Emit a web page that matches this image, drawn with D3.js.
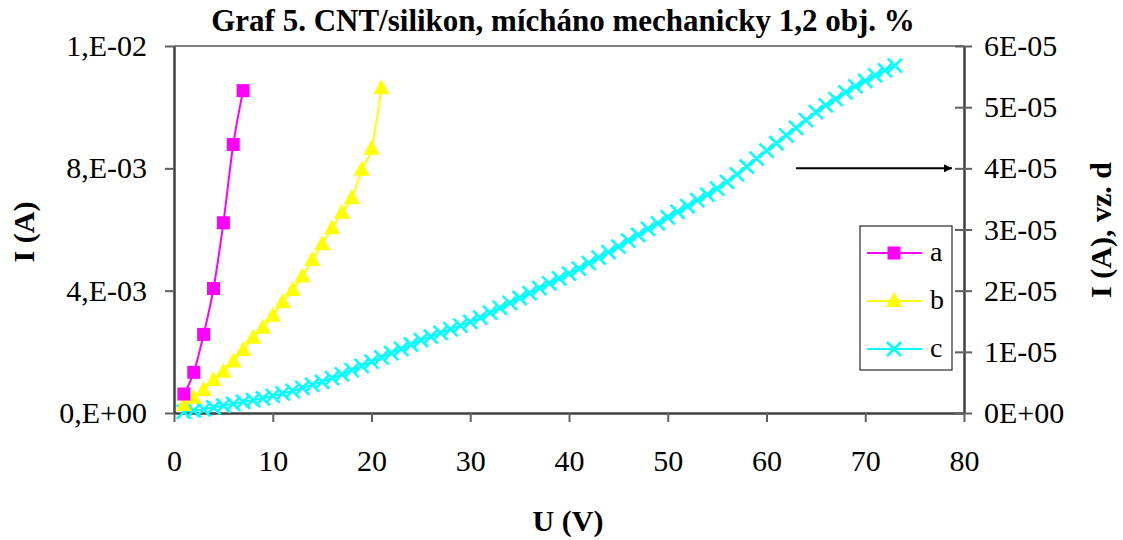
<!DOCTYPE html>
<html>
<head>
<meta charset="utf-8">
<title>Graf 5</title>
<style>
  body { margin: 0; background: #fff; }
  text { font-family: "Liberation Serif", "Times New Roman", serif; fill: #000; }
</style>
</head>
<body>
<svg id="chart" width="1123" height="540"></svg>
<script src="https://d3js.org/d3.v7.min.js"></script>
<script>
// series a: U (V) and I (A)
var aU = [1, 2, 3, 4, 5, 6, 7];
var aI = [0.00062, 0.00133, 0.00257, 0.00407, 0.00622, 0.00878, 0.01054];

// series b
var bU = [1, 2, 3, 4, 5, 6, 7, 8, 9, 10, 11, 12, 13, 14, 15, 16, 17, 18, 19, 20, 21];
var bI = [0.00026, 0.00050, 0.00075, 0.00108, 0.00135, 0.00168, 0.00206, 0.00246, 0.00279, 0.00318,
          0.00362, 0.00402, 0.00446, 0.00500, 0.00552, 0.00604, 0.00655, 0.00702, 0.00795, 0.00864, 0.01062];

// series c (right axis), current in units of 1E-05 A
var cU = [1, 2, 3, 4, 5, 6, 7, 8, 9, 10, 11, 12, 13, 14, 15, 16, 17, 18, 19, 20,
          21, 22, 23, 24, 25, 26, 27, 28, 29, 30, 31, 32, 33, 34, 35, 36, 37, 38, 39, 40,
          41, 42, 43, 44, 45, 46, 47, 48, 49, 50, 51, 52, 53, 54, 55, 56, 57, 58, 59, 60,
          61, 62, 63, 64, 65, 66, 67, 68, 69, 70, 71, 72, 73];
var cI = [0.02, 0.04, 0.06, 0.09, 0.12, 0.15, 0.18, 0.21, 0.24, 0.28,
          0.32, 0.36, 0.41, 0.46, 0.51, 0.57, 0.63, 0.70, 0.77, 0.84,
          0.91, 0.98, 1.05, 1.12, 1.19, 1.25, 1.31, 1.37, 1.43, 1.49,
          1.56, 1.64, 1.72, 1.80, 1.88, 1.96, 2.04, 2.12, 2.20, 2.28,
          2.36, 2.45, 2.54, 2.63, 2.72, 2.82, 2.91, 3.01, 3.10, 3.20,
          3.29, 3.38, 3.48, 3.57, 3.67, 3.78, 3.90, 4.03, 4.16, 4.29,
          4.41, 4.54, 4.66, 4.79, 4.92, 5.03, 5.13, 5.24, 5.34, 5.43,
          5.52, 5.60, 5.68];

// ticks and labels
var xTicks = [0, 10, 20, 30, 40, 50, 60, 70, 80];
var yLeftTicks = [0, 0.004, 0.008, 0.012];
var yLeftLabels = ["0,E+00", "4,E-03", "8,E-03", "1,E-02"];
var yRightTicks = [0, 1, 2, 3, 4, 5, 6];
var yRightLabels = ["0E+00", "1E-05", "2E-05", "3E-05", "4E-05", "5E-05", "6E-05"];
var seriesNames = ["a", "b", "c"];
var seriesColors = ["#ff00ff", "#ffff00", "#00ffff"];

var svg = d3.select("#chart");
var pLeft = 174, pRight = 964, pTop = 46, pBottom = 413;

var x = d3.scaleLinear().domain([0, 80]).range([pLeft, pRight]);
var yL = d3.scaleLinear().domain([0, 0.012]).range([pBottom, pTop]);
var yR = d3.scaleLinear().domain([0, 6]).range([pBottom, pTop]);

// plot area
svg.append("rect").attr("x", pLeft).attr("y", pTop).attr("width", pRight - pLeft).attr("height", pBottom - pTop)
    .attr("fill", "#fff");
svg.append("line").attr("x1", pLeft).attr("x2", pRight).attr("y1", pTop).attr("y2", pTop)
    .attr("stroke", "#808080").attr("stroke-width", 2);

// axes
var xAxis = svg.append("g").attr("transform", "translate(0," + pBottom + ")")
    .call(d3.axisBottom(x).tickValues(xTicks).tickSize(9).tickSizeOuter(0).tickPadding(28));
var yAxisL = svg.append("g").attr("transform", "translate(" + pLeft + ",0)")
    .call(d3.axisLeft(yL).tickValues(yLeftTicks).tickSize(9).tickSizeOuter(0).tickPadding(18)
        .tickFormat(function(d, i){ return yLeftLabels[i]; }));
var yAxisR = svg.append("g").attr("transform", "translate(" + pRight + ",0)")
    .call(d3.axisRight(yR).tickValues(yRightTicks).tickSize(8).tickSizeOuter(0).tickPadding(12)
        .tickFormat(function(d, i){ return yRightLabels[i]; }));
yAxisR.selectAll(".tick line").attr("x1", -9);

[xAxis, yAxisL, yAxisR].forEach(function(g){
    g.select(".domain").attr("stroke", "#404040").attr("stroke-width", 2.5);
    g.selectAll(".tick line").attr("stroke", "#606060").attr("stroke-width", 2);
    g.selectAll(".tick text").attr("font-family", "Liberation Serif").attr("font-size", 30).attr("fill", "#000");
});
xAxis.selectAll(".tick text").attr("dy", "0.71em");

// titles
svg.append("text").attr("x", 563).attr("y", 31).attr("text-anchor", "middle")
    .attr("font-size", 31).attr("font-weight", "bold")
    .text("Graf 5. CNT/silikon, mícháno mechanicky 1,2 obj. %");
svg.append("text").attr("x", 568).attr("y", 531).attr("text-anchor", "middle")
    .attr("font-size", 30).attr("font-weight", "bold").text("U (V)");
svg.append("text").attr("transform", "translate(34,232) rotate(-90)").attr("text-anchor", "middle")
    .attr("font-size", 30).attr("font-weight", "bold").text("I (A)");
svg.append("text").attr("transform", "translate(1111,230) rotate(-90)").attr("text-anchor", "middle")
    .attr("font-size", 30).attr("font-weight", "bold").text("I (A), vz. d");

// lines
var curve = d3.curveCardinal.tension(0);
function drawLine(us, is, ys, color){
    var pts = us.map(function(u, i){ return [x(u), ys(is[i])]; });
    svg.append("path").attr("d", d3.line().curve(curve)(pts))
        .attr("fill", "none").attr("stroke", color).attr("stroke-width", 2);
    return pts;
}
var aPts = drawLine(aU, aI, yL, seriesColors[0]);
var bPts = drawLine(bU, bI, yL, seriesColors[1]);
var cPts = drawLine(cU, cI, yR, seriesColors[2]);

// markers
function square(g, px, py, color){
    g.append("rect").attr("x", px - 6.5).attr("y", py - 6.5).attr("width", 13).attr("height", 13).attr("fill", color);
}
function triangle(g, px, py, color){
    g.append("path").attr("d", "M" + px + "," + (py - 9) + "L" + (px + 8) + "," + (py + 6) + "L" + (px - 8) + "," + (py + 6) + "Z")
        .attr("fill", color);
}
function cross(g, px, py, color){
    g.append("path").attr("d", "M" + (px - 7) + "," + (py - 7) + "L" + (px + 7) + "," + (py + 7) +
        "M" + (px + 7) + "," + (py - 7) + "L" + (px - 7) + "," + (py + 7))
        .attr("stroke", color).attr("stroke-width", 2.5);
}
var mg = svg.append("g");
cPts.forEach(function(p){ cross(mg, p[0], p[1], seriesColors[2]); });
bPts.forEach(function(p){ triangle(mg, p[0], p[1], seriesColors[1]); });
aPts.forEach(function(p){ square(mg, p[0], p[1], seriesColors[0]); });

// arrow pointing to right axis
svg.append("defs").append("marker").attr("id", "ah").attr("viewBox", "0 0 10 10")
    .attr("refX", 10).attr("refY", 5).attr("markerWidth", 5).attr("markerHeight", 4)
    .attr("orient", "auto").attr("markerUnits", "strokeWidth")
    .append("path").attr("d", "M0,0L10,5L0,10Z").attr("fill", "#000");
svg.append("line").attr("x1", x(63)).attr("x2", pRight - 12).attr("y1", yR(4)).attr("y2", yR(4))
    .attr("stroke", "#000").attr("stroke-width", 2).attr("marker-end", "url(#ah)");

// legend
var lg = svg.append("g").attr("transform", "translate(860,226)");
lg.append("rect").attr("width", 92).attr("height", 144).attr("fill", "#fff").attr("stroke", "#000").attr("stroke-width", 1);
var markFns = [square, triangle, cross];
seriesNames.forEach(function(name, i){
    var yy = 27 + i * 48;
    lg.append("line").attr("x1", 7).attr("x2", 62).attr("y1", yy).attr("y2", yy)
        .attr("stroke", seriesColors[i]).attr("stroke-width", 2);
    markFns[i](lg, 34, yy, seriesColors[i]);
    lg.append("text").attr("x", 70).attr("y", yy + 8).attr("font-size", 28).text(name);
});
</script>
</body>
</html>
